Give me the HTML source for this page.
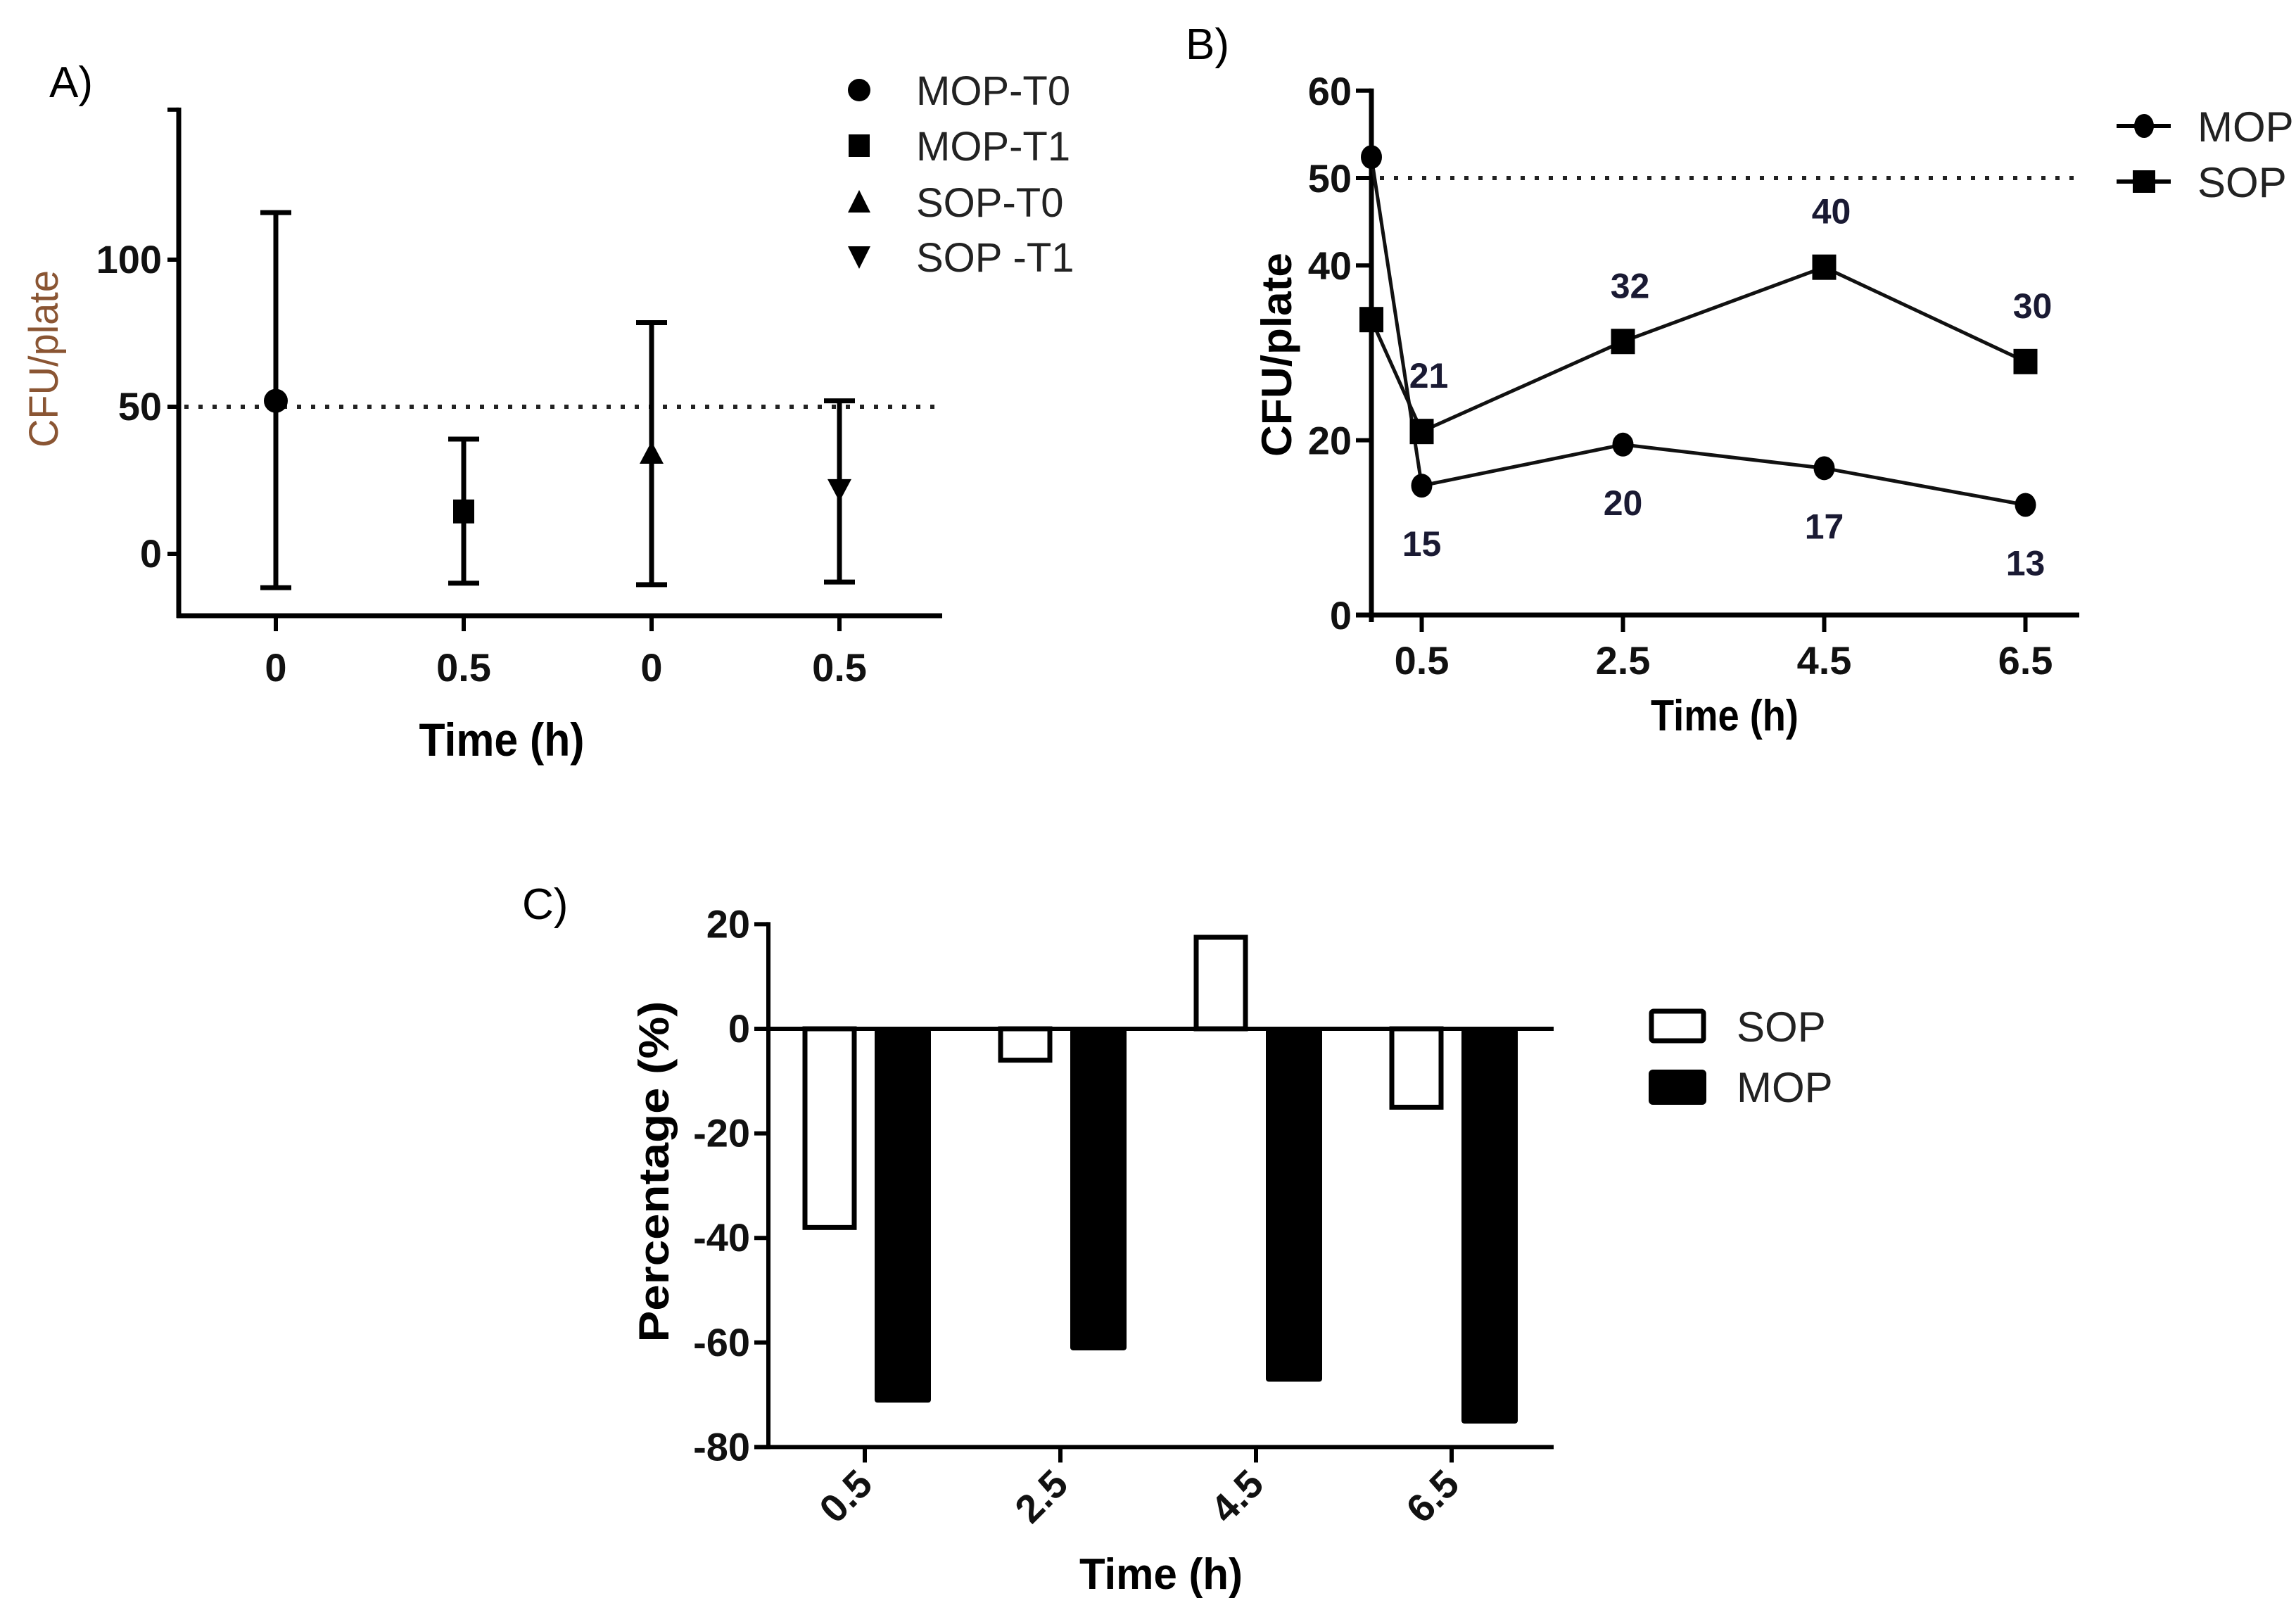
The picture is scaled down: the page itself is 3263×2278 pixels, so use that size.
<!DOCTYPE html>
<html><head><meta charset="utf-8"><title>CFU charts</title>
<style>
html,body{margin:0;padding:0;background:#fff;}
svg{display:block;}
text{font-family:"Liberation Sans Narrow","Liberation Sans",sans-serif;}
.tick{font-weight:bold;font-size:56px;fill:#111;}
.ttl{font-family:"Liberation Sans",sans-serif;}
</style></head>
<body>
<svg id="fig" width="3263" height="2278" viewBox="0 0 3263 2278" xmlns="http://www.w3.org/2000/svg">
<rect width="3263" height="2278" fill="#fff"/>
<g id="panelA"></g>
<g id="panelB"></g>
<g id="panelC"></g>
</svg>
<script>
// ---- Panel A data ----
const aCategories = ["MOP-T0","MOP-T1","SOP-T0","SOP-T1"];
const aTickLabels = ["0","0.5","0","0.5"];
const aMeans = [52, 14.4, 33, 23];
const aUpper = [116, 39, 78.6, 52];
const aLower = [-11.5, -10, -10.5, -9.6];
const aYTicks = [0, 50, 100, 151];
const aYTickLabels = ["0","50","100",""];
const aRef = 50;
// ---- Panel B data ----
const bTimes = [0, 0.5, 2.5, 4.5, 6.5];
const bMOP = [52.4, 14.8, 19.5, 16.8, 12.6];
const bSOP = [33.8, 21, 31.3, 39.8, 29];
const bMOPLabels = ["", "15", "20", "17", "13"];
const bSOPLabels = ["", "21", "32", "40", "30"];
const bXTicks = [0.5, 2.5, 4.5, 6.5];
const bXTickLabels = ["0.5","2.5","4.5","6.5"];
const bYTicks = [0, 20, 40, 50, 60];
const bYTickLabels = ["0","20","40","50","60"];
const bRef = 50;
// ---- Panel C data ----
const cCategories = ["0.5","2.5","4.5","6.5"];
const cSOP = [-38, -6, 17.5, -15];
const cMOP = [-71.5, -61.5, -67.5, -75.5];
const cYTicks = [20, 0, -20, -40, -60, -80];
const cYTickLabels = ["20","0","-20","-40","-60","-80"];

const NS = "http://www.w3.org/2000/svg";
function mk(parent, tag, attrs, txt){
  const e = document.createElementNS(NS, tag);
  for (const k in attrs) e.setAttribute(k, attrs[k]);
  if (txt !== undefined) e.textContent = txt;
  parent.appendChild(e);
  return e;
}

// ================= PANEL A =================
(function(){
  const g = document.getElementById('panelA');
  const X0 = 254, Xend = 1339, yBase = 875;
  const ay = v => 787 - v * 4.18;
  const ax = i => 392 + i * 267;
  let t = mk(g,'text',{x:70,y:138,'font-size':62,'font-family':'Liberation Sans, sans-serif'},'A)');
   
  let e = mk(g,'line',{x1:X0,y1:ay(151)-3,x2:X0,y2:yBase+3,stroke:'#000','stroke-width':7});
   
  e = mk(g,'line',{x1:X0-3,y1:yBase,x2:Xend,y2:yBase,stroke:'#000','stroke-width':7});
   
  aYTicks.forEach((v,i)=>{
    let tk = mk(g,'line',{x1:X0-16,y1:ay(v),x2:X0,y2:ay(v),stroke:'#000','stroke-width':6});
     
    if (aYTickLabels[i]) {
      let l = mk(g,'text',{x:X0-24,y:ay(v)+19,'text-anchor':'end',class:'tick'},aYTickLabels[i]);
       
    }
  });
  let rl = mk(g,'line',{x1:X0+8,y1:ay(aRef),x2:Xend,y2:ay(aRef),stroke:'#222','stroke-width':6,'stroke-dasharray':'6 14'});
   
  aCategories.forEach((c,i)=>{
    const x = ax(i);
    let tk = mk(g,'line',{x1:x,y1:yBase,x2:x,y2:yBase+22,stroke:'#000','stroke-width':6});
     
    let l = mk(g,'text',{x:x,y:968,'text-anchor':'middle',class:'tick'},aTickLabels[i]);
     
    let eb = mk(g,'path',{d:`M${x},${ay(aUpper[i])}V${ay(aLower[i])}M${x-22},${ay(aUpper[i])}H${x+22}M${x-22},${ay(aLower[i])}H${x+22}`,stroke:'#000','stroke-width':7,fill:'none'});
     
    const y = ay(aMeans[i]); let m;
    if (i===0) m = mk(g,'circle',{cx:x,cy:y,r:17,fill:'#000'});
    else if (i===1) m = mk(g,'rect',{x:x-15,y:y-17,width:30,height:34,fill:'#000'});
    else if (i===2) m = mk(g,'path',{d:`M${x},${y-22}L${x+17},${y+10}L${x-17},${y+10}Z`,fill:'#000'});
    else m = mk(g,'path',{d:`M${x},${y+22}L${x+17},${y-10}L${x-17},${y-10}Z`,fill:'#000'});
     
  });
  let yt = mk(g,'text',{x:0,y:0,transform:'translate(82,510) rotate(-90)','text-anchor':'middle','font-size':58,fill:'#8a5533',class:'ttl',textLength:252,lengthAdjust:'spacingAndGlyphs'},'CFU/plate');
   
  let xt = mk(g,'text',{x:713,y:1074,'text-anchor':'middle','font-size':66,'font-weight':'bold',textLength:235,lengthAdjust:'spacingAndGlyphs'},'Time (h)');
   
  const ly = [128, 207, 287, 365];
  aCategories.forEach((c,i)=>{
    const x = 1221, y = ly[i]; let m;
    if (i===0) m = mk(g,'circle',{cx:x,cy:y,r:16,fill:'#000'});
    else if (i===1) m = mk(g,'rect',{x:x-15,y:y-16,width:30,height:32,fill:'#000'});
    else if (i===2) m = mk(g,'path',{d:`M${x},${y-17}L${x+16},${y+15}L${x-16},${y+15}Z`,fill:'#000'});
    else m = mk(g,'path',{d:`M${x},${y+17}L${x+16},${y-15}L${x-16},${y-15}Z`,fill:'#000'});
     
    let l = mk(g,'text',{x:1302,y:y+21,'font-size':58,fill:'#222',class:'ttl'}, i===3 ? 'SOP -T1' : c);
     
  });
})();

// ================= PANEL B =================
(function(){
  const g = document.getElementById('panelB');
  const X0 = 1949, Xend = 2955, yBase = 874;
  const by = v => 874 - v * 12.42;
  const bx = t => 1949 + t * 143;
  let t = mk(g,'text',{x:1685,y:84,'font-size':62,'font-family':'Liberation Sans, sans-serif'},'B)');
   
  let e = mk(g,'line',{x1:X0,y1:by(60)-3,x2:X0,y2:yBase+10,stroke:'#000','stroke-width':7});
   
  e = mk(g,'line',{x1:X0-22,y1:yBase,x2:Xend,y2:yBase,stroke:'#000','stroke-width':7});
   
  bYTicks.forEach((v,i)=>{
    let tk = mk(g,'line',{x1:X0-22,y1:by(v),x2:X0,y2:by(v),stroke:'#000','stroke-width':6});
     
    let l = mk(g,'text',{x:X0-28,y:by(v)+20,'text-anchor':'end',class:'tick'},bYTickLabels[i]);
     
  });
  bXTicks.forEach((v,i)=>{
    let tk = mk(g,'line',{x1:bx(v),y1:yBase,x2:bx(v),y2:yBase+24,stroke:'#000','stroke-width':6});
     
    let l = mk(g,'text',{x:bx(v),y:958,'text-anchor':'middle',class:'tick'},bXTickLabels[i]);
     
  });
  let rl = mk(g,'line',{x1:X0+12,y1:by(bRef),x2:Xend,y2:by(bRef),stroke:'#222','stroke-width':6,'stroke-dasharray':'6 14'});
   
  const mopPts = bTimes.map((tm,i)=>bx(tm)+','+by(bMOP[i])).join(' ');
  const sopPts = bTimes.map((tm,i)=>bx(tm)+','+by(bSOP[i])).join(' ');
  let lm = mk(g,'polyline',{points:mopPts,fill:'none',stroke:'#111','stroke-width':5});
   
  let ls = mk(g,'polyline',{points:sopPts,fill:'none',stroke:'#111','stroke-width':5});
   
  bTimes.forEach((tm,i)=>{
    const x = bx(tm);
    let c = mk(g,'ellipse',{cx:x,cy:by(bMOP[i]),rx:15,ry:17,fill:'#000'});
     
    let s = mk(g,'rect',{x:x-17,y:by(bSOP[i])-18,width:34,height:36,fill:'#000'});
     
    if (bSOPLabels[i]) {
      let l = mk(g,'text',{x:x+10,y:by(bSOP[i])-62,'text-anchor':'middle','font-size':50,'font-weight':'bold',fill:'#1a1a33'},bSOPLabels[i]);
       
    }
    if (bMOPLabels[i]) {
      let l = mk(g,'text',{x:x,y:by(bMOP[i])+100,'text-anchor':'middle','font-size':50,'font-weight':'bold',fill:'#1a1a33'},bMOPLabels[i]);
       
    }
  });
  let yt = mk(g,'text',{x:0,y:0,transform:'translate(1835,504) rotate(-90)','text-anchor':'middle','font-size':60,'font-weight':'bold',class:'ttl',textLength:290,lengthAdjust:'spacingAndGlyphs'},'CFU/plate');
   
  let xt = mk(g,'text',{x:2451,y:1038,'text-anchor':'middle','font-size':62,'font-weight':'bold',textLength:210,lengthAdjust:'spacingAndGlyphs'},'Time (h)');
   
  [[179,'MOP'],[258,'SOP']].forEach((r,i)=>{
    let ln = mk(g,'line',{x1:3008,y1:r[0],x2:3085,y2:r[0],stroke:'#000','stroke-width':6});
     
    let m = i===0 ? mk(g,'ellipse',{cx:3047,cy:r[0],rx:14,ry:17,fill:'#000'}) : mk(g,'rect',{x:3031,y:r[0]-16,width:32,height:32,fill:'#000'});
     
    let l = mk(g,'text',{x:3123,y:r[0]+22,'font-size':60,fill:'#222',class:'ttl'},r[1]);
     
  });
})();

// ================= PANEL C =================
(function(){
  const g = document.getElementById('panelC');
  const X0 = 1092, Xend = 2208;
  const cy = v => 1462 - v * 7.43;
  const cx = i => 1229 + i * 278;
  const bw = 76;
  let t = mk(g,'text',{x:742,y:1306,'font-size':62,'font-family':'Liberation Sans, sans-serif'},'C)');
   
  cCategories.forEach((c,i)=>{
    const x = cx(i);
    const s = cSOP[i], m = cMOP[i];
    let r1 = mk(g,'rect',{x:x-50-bw/2+3,y:Math.min(cy(s),cy(0)),width:bw-6,height:Math.abs(cy(s)-cy(0)),fill:'#fff',stroke:'#000','stroke-width':7});
     
    let r2 = mk(g,'rect',{x:x+54-40,y:Math.min(cy(m),cy(0)),width:80,height:Math.abs(cy(m)-cy(0)),fill:'#000',rx:4});
     
    let tk = mk(g,'line',{x1:x,y1:cy(-80),x2:x,y2:cy(-80)+22,stroke:'#000','stroke-width':6});
     
    let l = mk(g,'text',{x:0,y:0,transform:`translate(${x+14},${cy(-80)+56}) rotate(-45)`,'text-anchor':'end',class:'tick','font-size':52},c);
     
  });
  let z = mk(g,'line',{x1:X0,y1:cy(0),x2:Xend,y2:cy(0),stroke:'#000','stroke-width':6});
   
  let e = mk(g,'line',{x1:X0,y1:cy(20)-3,x2:X0,y2:cy(-80)+3,stroke:'#000','stroke-width':6});
   
  e = mk(g,'line',{x1:X0-20,y1:cy(-80),x2:Xend,y2:cy(-80),stroke:'#000','stroke-width':6});
   
  cYTicks.forEach((v,i)=>{
    let tk = mk(g,'line',{x1:X0-20,y1:cy(v),x2:X0,y2:cy(v),stroke:'#000','stroke-width':6});
     
    let l = mk(g,'text',{x:X0-26,y:cy(v)+19,'text-anchor':'end',class:'tick','font-size':54},cYTickLabels[i]);
     
  });
  let yt = mk(g,'text',{x:0,y:0,transform:'translate(950,1665) rotate(-90)','text-anchor':'middle','font-size':60,'font-weight':'bold',class:'ttl',textLength:485,lengthAdjust:'spacingAndGlyphs'},'Percentage (%)');
   
  let xt = mk(g,'text',{x:1650,y:2258,'text-anchor':'middle','font-size':62,'font-weight':'bold',textLength:232,lengthAdjust:'spacingAndGlyphs'},'Time (h)');
   
  let lb1 = mk(g,'rect',{x:2347,y:1437,width:74,height:42,fill:'#fff',stroke:'#000','stroke-width':7,rx:3});
   
  let lb2 = mk(g,'rect',{x:2343,y:1520,width:82,height:50,fill:'#000',rx:6});
   
  let l1 = mk(g,'text',{x:2468,y:1480,'font-size':60,fill:'#222',class:'ttl'},'SOP');
   
  let l2 = mk(g,'text',{x:2468,y:1566,'font-size':60,fill:'#222',class:'ttl'},'MOP');
   
})();
</script>
</body></html>
